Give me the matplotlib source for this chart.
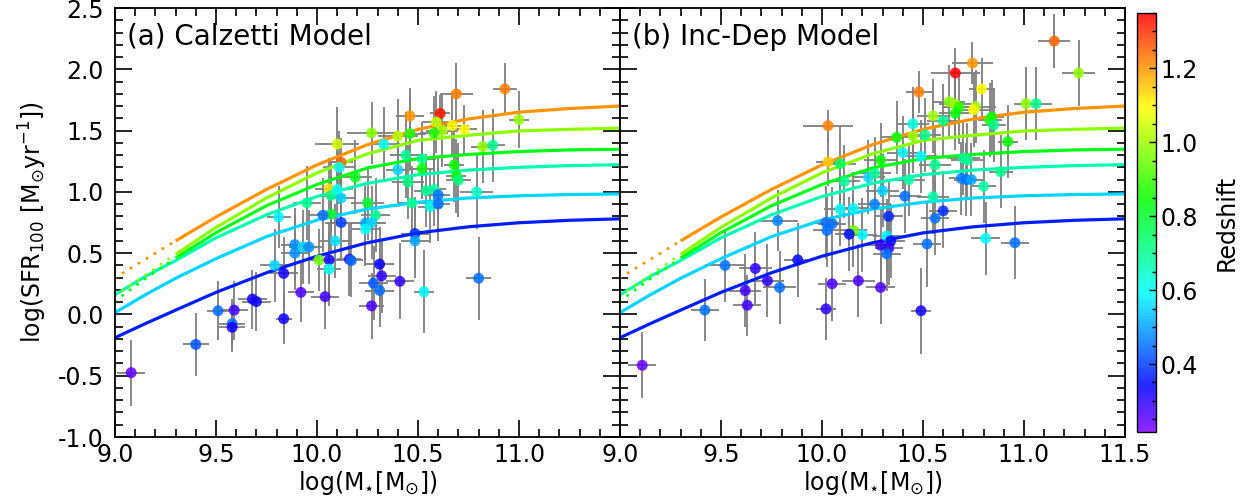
import numpy as np
import matplotlib
matplotlib.use('Agg')
import matplotlib.pyplot as plt
from matplotlib.colors import LinearSegmentedColormap, Normalize
from matplotlib.ticker import MultipleLocator, FixedLocator, FixedFormatter

plt.rcParams['font.family'] = ['DejaVu Sans']
plt.rcParams['axes.unicode_minus'] = False

# ---------------- model curves ----------------
curve_mass = [9.0, 9.15, 9.3, 9.5, 9.75, 10.0, 10.25, 10.5, 10.75, 11.0, 11.25, 11.5]
curve_z = [0.37, 0.55, 0.67, 0.82, 0.98, 1.20]
curve_blue = [-0.19, -0.075, 0.035, 0.18, 0.34, 0.475, 0.585, 0.665, 0.715, 0.748, 0.768, 0.78]
curve_cyan = [0.015, 0.16, 0.295, 0.455, 0.635, 0.77, 0.86, 0.915, 0.95, 0.968, 0.978, 0.983]
curve_teal = [0.16, 0.31, 0.44, 0.625, 0.813, 0.962, 1.07, 1.14, 1.178, 1.20, 1.214, 1.222]
curve_green = [0.11, 0.29, 0.46, 0.667, 0.887, 1.06, 1.195, 1.272, 1.305, 1.329, 1.342, 1.348]
curve_ygreen = [0.15, 0.32, 0.49, 0.71, 0.95, 1.155, 1.31, 1.42, 1.462, 1.497, 1.51, 1.52]
curve_orange = [0.30, 0.45, 0.60, 0.795, 1.02, 1.22, 1.385, 1.51, 1.595, 1.65, 1.68, 1.70]
curve_sets = [curve_blue, curve_cyan, curve_teal, curve_green, curve_ygreen, curve_orange]
curve_dotted_low = [False, False, False, True, True, True]
dot_limit = 9.3

# ---------------- (a) Calzetti model galaxies ----------------
a_mass = [10.93, 10.69, 10.46, 10.61, 11.00, 10.59, 10.67, 10.73, 10.62, 10.58,
          10.46, 10.40, 10.27, 10.33, 10.10, 10.82, 10.87, 10.12, 10.11, 10.44,
          10.52, 10.68, 10.52, 10.40, 10.19, 10.69, 10.70, 10.45, 10.06, 10.07,
          10.12, 10.10, 10.54, 10.58, 10.60, 10.79, 9.95, 10.25, 10.47, 10.56,
          10.60, 10.07, 10.03, 10.29, 9.81, 10.12, 10.24, 10.27, 10.24, 10.09,
          10.485, 10.485, 9.89, 9.93, 9.96, 9.89, 10.01, 10.06, 10.06, 10.16,
          10.17, 9.79, 9.835, 9.92, 10.04, 10.31, 10.32, 10.28, 10.31, 10.27,
          10.41, 10.53, 10.80, 9.68, 9.70, 9.51, 9.59, 9.58, 9.58, 9.835,
          9.40, 9.08]
a_sfr = [1.84, 1.80, 1.62, 1.64, 1.59, 1.57, 1.54, 1.51, 1.50, 1.48,
         1.475, 1.455, 1.48, 1.39, 1.39, 1.37, 1.38, 1.24, 1.20, 1.30,
         1.27, 1.22, 1.19, 1.18, 1.12, 1.13, 1.095, 1.08, 1.025, 0.97,
         0.95, 1.02, 1.01, 1.02, 0.975, 1.00, 0.91, 0.91, 0.91, 0.88,
         0.90, 0.82, 0.81, 0.81, 0.795, 0.75, 0.745, 0.75, 0.695, 0.60,
         0.66, 0.60, 0.57, 0.55, 0.55, 0.50, 0.445, 0.445, 0.37, 0.45,
         0.44, 0.40, 0.335, 0.18, 0.145, 0.41, 0.315, 0.255, 0.195, 0.07,
         0.27, 0.185, 0.295, 0.125, 0.105, 0.03, 0.035, -0.075, -0.105, -0.035,
         -0.245, -0.475]
a_z = [1.22, 1.22, 1.20, 1.33, 0.99, 1.03, 1.10, 1.10, 1.00, 0.88,
       0.87, 1.02, 0.97, 0.60, 1.05, 0.98, 0.70, 1.25, 0.60, 0.70,
       0.70, 0.85, 0.85, 0.55, 0.82, 0.85, 0.72, 0.72, 1.12, 0.70,
       0.55, 0.60, 0.70, 0.68, 0.45, 0.65, 0.70, 0.80, 0.70, 0.62,
       0.45, 0.80, 0.45, 0.70, 0.58, 0.40, 0.50, 0.55, 0.60, 0.57,
       0.38, 0.50, 0.48, 0.55, 0.48, 0.48, 0.95, 0.33, 0.60, 0.30,
       0.45, 0.55, 0.33, 0.27, 0.28, 0.34, 0.30, 0.43, 0.45, 0.27,
       0.30, 0.58, 0.45, 0.33, 0.33, 0.45, 0.28, 0.45, 0.32, 0.33,
       0.42, 0.25]
a_mass_err = [0.06, 0.08, 0.07, 0.05, 0.05, 0.07, 0.08, 0.06, 0.08, 0.07,
              0.08, 0.10, 0.12, 0.08, 0.11, 0.06, 0.06, 0.06, 0.08, 0.08,
              0.07, 0.05, 0.06, 0.06, 0.08, 0.05, 0.06, 0.08, 0.07, 0.07,
              0.07, 0.08, 0.06, 0.06, 0.06, 0.08, 0.07, 0.08, 0.07, 0.06,
              0.06, 0.07, 0.07, 0.07, 0.06, 0.08, 0.07, 0.07, 0.07, 0.08,
              0.07, 0.07, 0.07, 0.07, 0.07, 0.07, 0.05, 0.06, 0.06, 0.06,
              0.06, 0.07, 0.07, 0.065, 0.07, 0.07, 0.07, 0.07, 0.07, 0.06,
              0.07, 0.05, 0.06, 0.07, 0.07, 0.055, 0.07, 0.065, 0.065, 0.04,
              0.065, 0.07]
a_sfr_err = [0.21, 0.25, 0.23, 0.15, 0.23, 0.25, 0.25, 0.20, 0.30, 0.30,
             0.30, 0.30, 0.25, 0.30, 0.30, 0.30, 0.30, 0.20, 0.30, 0.35,
             0.30, 0.30, 0.25, 0.30, 0.30, 0.30, 0.30, 0.30, 0.25, 0.30,
             0.30, 0.30, 0.30, 0.30, 0.30, 0.30, 0.30, 0.30, 0.30, 0.30,
             0.30, 0.30, 0.30, 0.30, 0.25, 0.30, 0.30, 0.30, 0.30, 0.30,
             0.30, 0.30, 0.30, 0.30, 0.30, 0.30, 0.25, 0.30, 0.30, 0.30,
             0.30, 0.30, 0.30, 0.24, 0.26, 0.30, 0.30, 0.30, 0.30, 0.27,
             0.31, 0.34, 0.34, 0.24, 0.24, 0.24, 0.24, 0.20, 0.20, 0.21,
             0.26, 0.27]

# ---------------- (b) Inc-Dep model galaxies ----------------
b_mass = [11.15, 11.27, 10.745, 10.66, 10.48, 10.79, 10.63, 10.66, 10.68, 10.66,
          10.76, 10.75, 10.55, 10.60, 10.45, 10.84, 10.83, 10.85, 11.01, 11.06,
          10.03, 10.37, 10.45, 10.51, 10.92, 10.40, 10.49, 10.56, 10.70, 10.72,
          10.885, 10.03, 10.09, 10.29, 10.11, 10.23, 10.26, 10.43, 10.69, 10.715,
          10.74, 10.80, 10.30, 10.41, 10.55, 10.09, 10.155, 10.26, 9.78, 10.02,
          10.05, 10.025, 10.33, 10.60, 10.56, 10.20, 10.155, 10.135, 10.32, 10.34,
          10.81, 10.955, 10.52, 10.29, 10.33, 10.32, 9.88, 9.52, 9.67, 9.73,
          9.79, 9.62, 9.63, 9.42, 10.05, 10.18, 10.29, 10.02, 10.49, 9.11]
b_sfr = [2.23, 1.97, 2.05, 1.97, 1.815, 1.84, 1.735, 1.715, 1.69, 1.64,
         1.695, 1.67, 1.62, 1.58, 1.555, 1.61, 1.585, 1.545, 1.72, 1.72,
         1.54, 1.445, 1.455, 1.465, 1.41, 1.32, 1.29, 1.22, 1.275, 1.26,
         1.165, 1.245, 1.23, 1.26, 1.085, 1.12, 1.15, 1.10, 1.11, 1.10,
         1.10, 1.045, 1.01, 0.965, 0.96, 0.86, 0.865, 0.90, 0.765, 0.75,
         0.74, 0.685, 0.80, 0.845, 0.785, 0.65, 0.685, 0.655, 0.64, 0.60,
         0.62, 0.585, 0.575, 0.565, 0.54, 0.495, 0.445, 0.40, 0.375, 0.275,
         0.22, 0.195, 0.075, 0.035, 0.25, 0.275, 0.22, 0.045, 0.03, -0.415]
b_z = [1.25, 0.99, 1.20, 1.35, 1.22, 1.10, 0.97, 1.00, 0.88, 0.85,
       1.00, 1.10, 1.00, 0.70, 0.62, 0.85, 0.87, 0.70, 0.98, 0.70,
       1.22, 0.85, 1.00, 0.70, 0.85, 0.58, 0.60, 0.70, 0.70, 0.70,
       0.70, 1.15, 0.75, 0.85, 0.70, 0.55, 0.70, 0.68, 0.47, 0.45,
       0.50, 0.68, 0.55, 0.45, 0.68, 0.60, 0.58, 0.47, 0.47, 0.45,
       0.45, 0.45, 0.38, 0.38, 0.45, 0.58, 0.95, 0.35, 0.58, 0.35,
       0.60, 0.45, 0.45, 0.30, 0.30, 0.45, 0.35, 0.45, 0.30, 0.30,
       0.45, 0.28, 0.28, 0.45, 0.27, 0.27, 0.27, 0.30, 0.32, 0.25]
b_mass_err = [0.08, 0.08, 0.10, 0.12, 0.065, 0.06, 0.08, 0.08, 0.08, 0.08,
              0.10, 0.08, 0.08, 0.08, 0.08, 0.06, 0.06, 0.06, 0.06, 0.08,
              0.125, 0.08, 0.08, 0.08, 0.05, 0.08, 0.08, 0.08, 0.08, 0.08,
              0.06, 0.06, 0.08, 0.08, 0.08, 0.08, 0.08, 0.08, 0.06, 0.06,
              0.06, 0.06, 0.08, 0.08, 0.08, 0.08, 0.08, 0.08, 0.10, 0.07,
              0.07, 0.07, 0.07, 0.07, 0.07, 0.07, 0.07, 0.07, 0.07, 0.07,
              0.07, 0.07, 0.07, 0.07, 0.07, 0.07, 0.07, 0.10, 0.08, 0.08,
              0.08, 0.08, 0.07, 0.07, 0.07, 0.08, 0.07, 0.05, 0.05, 0.07]
b_sfr_err = [0.22, 0.27, 0.17, 0.20, 0.17, 0.25, 0.30, 0.30, 0.30, 0.30,
             0.30, 0.30, 0.30, 0.30, 0.30, 0.30, 0.30, 0.30, 0.30, 0.30,
             0.13, 0.30, 0.30, 0.30, 0.30, 0.30, 0.30, 0.30, 0.30, 0.30,
             0.30, 0.20, 0.30, 0.30, 0.30, 0.30, 0.30, 0.30, 0.30, 0.30,
             0.30, 0.30, 0.30, 0.30, 0.30, 0.30, 0.30, 0.30, 0.25, 0.30,
             0.30, 0.30, 0.30, 0.30, 0.30, 0.30, 0.30, 0.30, 0.30, 0.30,
             0.30, 0.30, 0.35, 0.30, 0.30, 0.30, 0.30, 0.30, 0.30, 0.30,
             0.30, 0.30, 0.25, 0.25, 0.30, 0.30, 0.30, 0.25, 0.35, 0.27]

panel_titles = ['(a) Calzetti Model', '(b) Inc-Dep Model']
x_ticks = [9.0, 9.5, 10.0, 10.5, 11.0, 11.5]
y_ticks = [-1.0, -0.5, 0.0, 0.5, 1.0, 1.5, 2.0, 2.5]
cbar_ticks = [0.4, 0.6, 0.8, 1.0, 1.2]
z_min, z_max = 0.216, 1.35

# ---------------- style ----------------
cmap = LinearSegmentedColormap.from_list(
    'zrainbow', plt.cm.gist_rainbow(np.linspace(0.86, 0.03, 256)))
norm = Normalize(vmin=z_min, vmax=z_max)

fig = plt.figure(figsize=(12.51, 4.98), dpi=100)
W, H = 1251.0, 498.0
ax1 = fig.add_axes([115 / W, 61 / H, 505 / W, 429 / H])
ax2 = fig.add_axes([620 / W, 61 / H, 505 / W, 429 / H])
cax = fig.add_axes([1137 / W, 66 / H, 19 / W, 419 / H])

panels = [
    (ax1, a_mass, a_sfr, a_z, a_mass_err, a_sfr_err),
    (ax2, b_mass, b_sfr, b_z, b_mass_err, b_sfr_err),
]

cm = np.array(curve_mass)
sc = None
for i, (ax, m, s, z, me, se) in enumerate(panels):
    ax.errorbar(m, s, xerr=me, yerr=se, fmt='none', ecolor='#7f7f7f',
                elinewidth=1.3, capsize=0, zorder=2)
    for cz, vals, dotted in zip(curve_z, curve_sets, curve_dotted_low):
        col = cmap(norm(cz))
        v = np.array(vals)
        if dotted:
            lo = cm <= dot_limit
            ax.plot(cm[lo], v[lo], color=col, lw=2.2, linestyle=(0, (0.05, 3.0)),
                    dash_capstyle='round', zorder=2.5)
            hi = cm >= dot_limit
            ax.plot(cm[hi], v[hi], color=col, lw=2.3, solid_capstyle='butt', zorder=2.5)
        else:
            ax.plot(cm, v, color=col, lw=2.3, zorder=2.5)
    sc = ax.scatter(m, s, c=z, cmap=cmap, norm=norm, s=62, alpha=0.85,
                    edgecolors='none', zorder=3)

    ax.set_xlim(9.0, 11.5)
    ax.set_ylim(-1.0, 2.5)
    ax.xaxis.set_major_locator(FixedLocator(x_ticks))
    labels = ['%.1f' % t for t in x_ticks]
    if i == 0:
        labels[-1] = ''
    ax.xaxis.set_major_formatter(FixedFormatter(labels))
    ax.xaxis.set_minor_locator(MultipleLocator(0.1))
    ax.yaxis.set_major_locator(FixedLocator(y_ticks))
    ax.yaxis.set_minor_locator(MultipleLocator(0.1))
    if i == 0:
        ax.yaxis.set_major_formatter(FixedFormatter(['%.1f' % t for t in y_ticks]))
        ax.set_ylabel(r'log(SFR$_{100}$ [M$_{\odot}$yr$^{-1}$])', fontsize=17, labelpad=6)
    else:
        ax.set_yticklabels([])
    ax.tick_params(which='both', direction='in', top=True, right=True,
                   width=1.2, labelsize=17)
    ax.tick_params(which='major', length=12)
    ax.tick_params(which='minor', length=6)
    ax.tick_params(axis='y', which='major', pad=8)
    ax.tick_params(axis='x', which='major', pad=4)
    for sp in ax.spines.values():
        sp.set_linewidth(1.3)
    ax.set_xlabel(r'log(M$_{\star}$[M$_{\odot}$])', fontsize=17, labelpad=2)
    ax.text(0.024, 0.914, panel_titles[i], transform=ax.transAxes, fontsize=20,
            ha='left', va='baseline', zorder=5)

cb = fig.colorbar(sc, cax=cax)
cb.set_ticks(cbar_ticks)
cb.ax.yaxis.set_minor_locator(MultipleLocator(0.05))
cb.ax.tick_params(which='both', direction='in', right=True, width=1.0, labelsize=17)
cb.ax.tick_params(which='major', length=5)
cb.ax.tick_params(which='minor', length=3)
cb.outline.set_linewidth(1.0)
cb.set_label('Redshift', fontsize=17, labelpad=12)

fig.savefig('out.png', dpi=100)
